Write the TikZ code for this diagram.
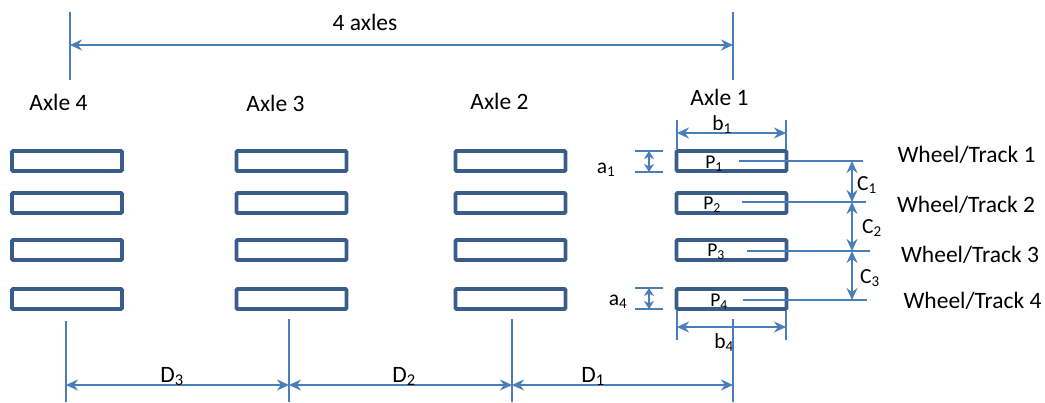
\documentclass[tikz,border=0pt]{standalone}
\usepackage{fontspec}
\setmainfont{Carlito}
\usetikzlibrary{arrows.meta}
\definecolor{lineblue}{HTML}{4A7EBB}
\definecolor{boxblue}{HTML}{385D8A}
\begin{document}
\begin{tikzpicture}[x=1pt,y=-1pt,
  wheelbox/.style={draw=boxblue, line width=3.8pt, minimum width=110pt, minimum height=20pt, inner sep=0pt, rounded corners=1pt},
  guide/.style={draw=lineblue, line width=1.8pt},
  dimarrow/.style={guide, {Stealth[length=12pt,width=11pt,inset=4pt]}-{Stealth[length=12pt,width=11pt,inset=4pt]}},
  smallarrow/.style={guide, {Stealth[length=8pt,width=10pt,inset=2.5pt]}-{Stealth[length=8pt,width=10pt,inset=2.5pt]}},
  lab/.style={font=\fontsize{23.5}{27}\selectfont, inner sep=0pt, anchor=base},
  sublab/.style={font=\fontsize{21.5}{25}\selectfont, inner sep=0pt, anchor=base},
  plab/.style={font=\fontsize{19.5}{23}\selectfont, inner sep=0pt, anchor=base}]
\useasboundingbox (0,0) rectangle (1045,402);

% wheels
\foreach \ax/\cx in {4/67,3/291.5,2/510.5,1/731.5}
  \foreach \r/\cy in {1/161,2/203,3/250,4/299}
    \node[wheelbox] (w\ax\r) at (\cx,\cy) {};

% top axle span
\coordinate (top4) at (70,12); \coordinate (bot4) at (70,80);
\coordinate (top1) at (733,12); \coordinate (bot1) at (733,80);
\coordinate (ax4) at (70,45); \coordinate (ax1) at (733,45);
\draw[guide] (top4) -- (bot4);
\draw[guide] (top1) -- (bot1);
\draw[dimarrow] (ax4) -- (ax1);
\node[lab] (axles) at (365,30) {4 axles};

% axle labels
\node[lab] (lax4) at (58.5,110) {Axle 4};
\node[lab] (lax3) at (275.5,111) {Axle 3};
\node[lab] (lax2) at (499.5,109) {Axle 2};
\node[lab] (lax1) at (719.5,105) {Axle 1};

% b1
\coordinate (b1l) at (677,120); \coordinate (b1lb) at (677,149);
\coordinate (b1r) at (786,120); \coordinate (b1rb) at (786,149);
\coordinate (b1al) at (677,133); \coordinate (b1ar) at (786,133);
\draw[guide] (b1l) -- (b1lb);
\draw[guide] (b1r) -- (b1rb);
\draw[dimarrow] (b1al) -- (b1ar);
\node[sublab] (lb1) at (722,130) {b\textsubscript{1}};

% b4
\coordinate (b4l) at (677,311); \coordinate (b4lb) at (677,340);
\coordinate (b4r) at (786,311); \coordinate (b4rb) at (786,340);
\coordinate (b4al) at (677,327); \coordinate (b4ar) at (786,327);
\draw[guide] (b4l) -- (b4lb);
\draw[guide] (b4r) -- (b4rb);
\draw[dimarrow] (b4al) -- (b4ar);
\node[sublab] (lb4) at (724,348) {b\textsubscript{4}};

% a1
\coordinate (a1tl) at (635,151); \coordinate (a1tr) at (663,151);
\coordinate (a1bl) at (635,172); \coordinate (a1br) at (663,172);
\coordinate (a1t) at (649,151); \coordinate (a1b) at (649,172);
\draw[guide] (a1tl) -- (a1tr);
\draw[guide] (a1bl) -- (a1br);
\draw[smallarrow] (a1t) -- (a1b);
\node[sublab] (la1) at (606,173) {a\textsubscript{1}};

% a4
\coordinate (a4tl) at (635,288); \coordinate (a4tr) at (663,288);
\coordinate (a4bl) at (635,309); \coordinate (a4br) at (663,309);
\coordinate (a4t) at (649,288); \coordinate (a4b) at (649,309);
\draw[guide] (a4tl) -- (a4tr);
\draw[guide] (a4bl) -- (a4br);
\draw[smallarrow] (a4t) -- (a4b);
\node[sublab] (la4) at (618,305) {a\textsubscript{4}};

% P lines
\coordinate (p1s) at (739,161); \coordinate (p1e) at (863,161);
\coordinate (p2s) at (742,202); \coordinate (p2e) at (866,202);
\coordinate (p3s) at (747,251); \coordinate (p3e) at (870,251);
\coordinate (p4s) at (743,300); \coordinate (p4e) at (867,300);
\draw[guide] (p1s) -- (p1e);
\draw[guide] (p2s) -- (p2e);
\draw[guide] (p3s) -- (p3e);
\draw[guide] (p4s) -- (p4e);
\node[plab] (lp1) at (714,168) {P\textsubscript{1}};
\node[plab] (lp2) at (712,209) {P\textsubscript{2}};
\node[plab] (lp3) at (716,256) {P\textsubscript{3}};
\node[plab] (lp4) at (719,306) {P\textsubscript{4}};

% C arrows
\coordinate (c1) at (852,161); \coordinate (c2) at (852,202);
\coordinate (c3) at (852,251); \coordinate (c4) at (852,300);
\draw[dimarrow] (c1) -- (c2);
\draw[dimarrow] (c2) -- (c3);
\draw[dimarrow] (c3) -- (c4);
\node[sublab] (lc1) at (867,190) {C\textsubscript{1}};
\node[sublab] (lc2) at (872,233) {C\textsubscript{2}};
\node[sublab] (lc3) at (870,283) {C\textsubscript{3}};

% wheel/track labels
\node[lab] (wt1) at (966.5,162) {Wheel/Track 1};
\node[lab] (wt2) at (966,212) {Wheel/Track 2};
\node[lab] (wt3) at (970,262) {Wheel/Track 3};
\node[lab] (wt4) at (972.5,308) {Wheel/Track 4};

% bottom D dimensions
\coordinate (d4t) at (66,321); \coordinate (d4b) at (66,402);
\coordinate (d3t) at (289,319); \coordinate (d3b) at (289,402);
\coordinate (d2t) at (512,319); \coordinate (d2b) at (512,402);
\coordinate (d1t) at (733,319); \coordinate (d1b) at (733,402);
\draw[guide] (d4t) -- (d4b);
\draw[guide] (d3t) -- (d3b);
\draw[guide] (d2t) -- (d2b);
\draw[guide] (d1t) -- (d1b);
\coordinate (da4) at (66,385); \coordinate (da3) at (289,385);
\coordinate (da2) at (512,385); \coordinate (da1) at (733,385);
\draw[dimarrow] (da4) -- (da3);
\draw[dimarrow] (da3) -- (da2);
\draw[dimarrow] (da2) -- (da1);
\node[lab] (ld3) at (172,382) {D\textsubscript{3}};
\node[lab] (ld2) at (404,382) {D\textsubscript{2}};
\node[lab] (ld1) at (593,382) {D\textsubscript{1}};
\end{tikzpicture}
\end{document}
